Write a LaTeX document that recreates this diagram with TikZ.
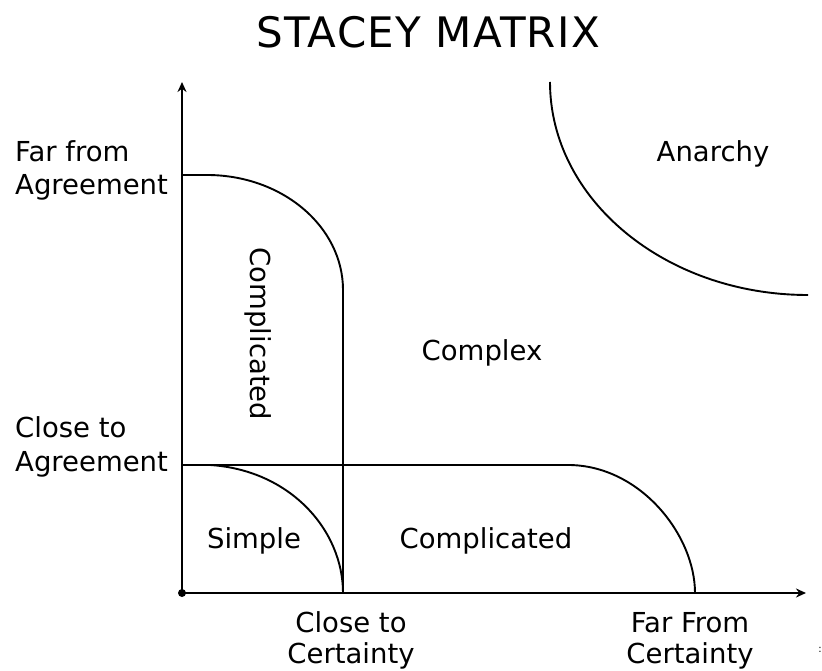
\documentclass[tikz,border=0pt]{standalone}
\usepackage{fontspec}
\setmainfont{DejaVu Sans}
\newfontfamily\titlefont[LetterSpace=3]{DejaVu Sans}
\usetikzlibrary{arrows.meta}
\tikzset{
  lbl/.style={font=\fontsize{27.5}{32}\selectfont, inner sep=0pt},
  axis/.style={line width=2pt, -{Stealth[length=10pt,width=9pt]}},
  bound/.style={line width=1.9pt},
}
\begin{document}
\begin{tikzpicture}[x=1pt,y=1pt]
\useasboundingbox (0,0) rectangle (822,670);
% title
\node[inner sep=0pt, font=\titlefont\fontsize{42}{48}\selectfont] (title) at (428,638) {STACEY MATRIX};
% axes
\coordinate (O) at (182,77);
\coordinate (ytip) at (182,588);
\coordinate (xtip) at (806,77);
\draw[axis] (O) -- (ytip);
\draw[axis] (O) -- (xtip);
\fill (O) circle (4pt);
% upper complicated boundary
\coordinate (u0) at (182,495);
\coordinate (u1) at (207,495);
\coordinate (u3) at (343,77);
\draw[bound] (u0) -- (u1) arc[start angle=90, end angle=0, x radius=136pt, y radius=115pt] -- (u3);
% lower complicated boundary
\coordinate (h0) at (182,205);
\coordinate (h1) at (568,205);
\coordinate (h2) at (695,77);
\draw[bound] (h0) -- (h1) .. controls (640,205) and (695,135) .. (h2);
% simple boundary
\coordinate (s0) at (210,205);
\coordinate (s1) at (343,77);
\draw[bound] (s0) .. controls (290,200) and (343,140) .. (s1);
% anarchy boundary
\coordinate (a0) at (550,588);
\draw[bound] (a0) arc[start angle=180, end angle=270, x radius=258pt, y radius=213pt];
% axis labels
\node[lbl, anchor=base west] (farA1) at (15,508) {Far from};
\node[lbl, anchor=base west] (farA2) at (15,475) {Agreement};
\node[lbl, anchor=base west] (cloA1) at (15,233) {Close to};
\node[lbl, anchor=base west] (cloA2) at (15,198) {Agreement};
\node[lbl, anchor=base] (cloC1) at (351,38) {Close to};
\node[lbl, anchor=base] (cloC2) at (351,7) {Certainty};
\node[lbl, anchor=base] (farC1) at (690,38) {Far From};
\node[lbl, anchor=base] (farC2) at (690,7) {Certainty};
% region labels
\node[lbl, anchor=base] (anarchy) at (713,508) {Anarchy};
\node[lbl, anchor=base] (complex) at (482,309) {Complex};
\node[lbl, anchor=base] (simple) at (254,122) {Simple};
\node[lbl, anchor=base] (compB) at (486,122) {Complicated};
\node[lbl, rotate=-90] (compV) at (258,336) {Complicated};
\node[inner sep=0pt, font=\fontsize{10}{12}\selectfont] (dots) at (820,20) {:};
\end{tikzpicture}
\end{document}
